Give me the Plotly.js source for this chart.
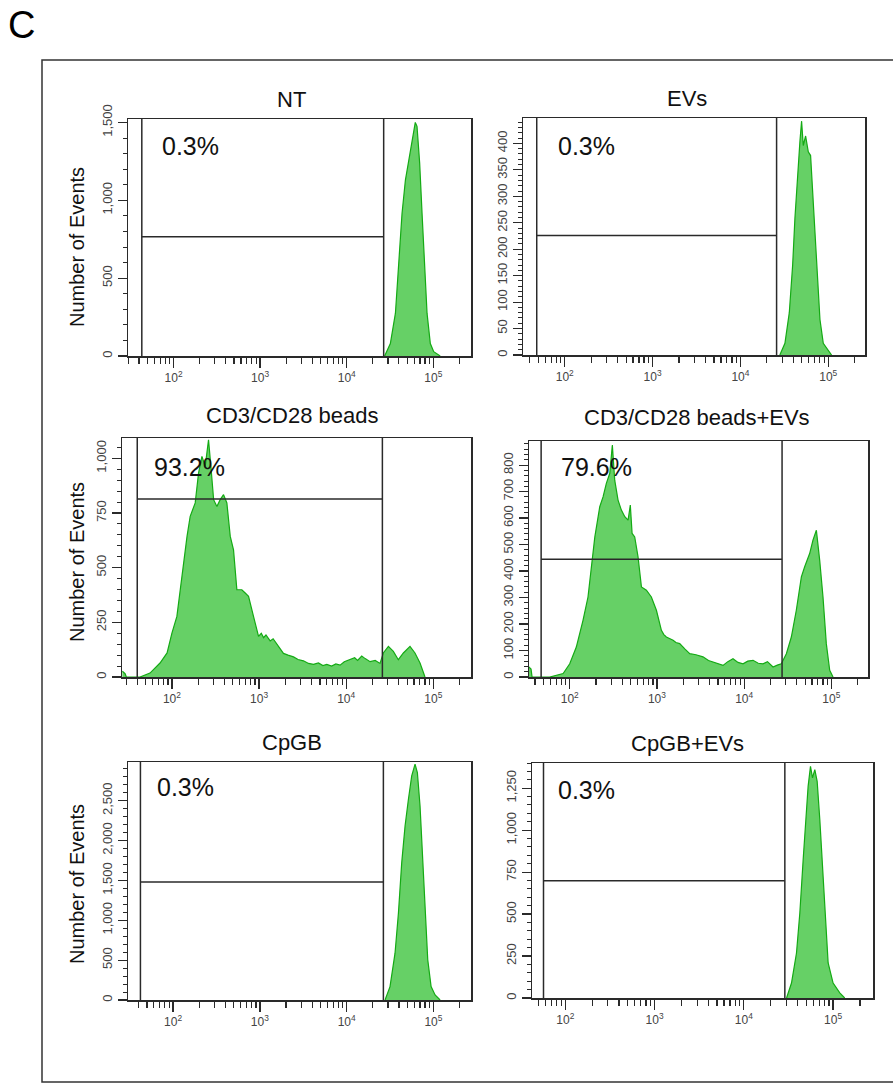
<!DOCTYPE html>
<html>
<head>
<meta charset="utf-8">
<script src="https://cdn.plot.ly/plotly-3.0.1.min.js"></script>
<style>html,body{margin:0;padding:0;background:#fff;}#chart{width:893px;height:1084px;}</style>
</head>
<body>
<div id="chart"></div>
<script>
// ---------------- DATA ----------------
const panelTitles = ["NT", "EVs", "CD3/CD28 beads", "CD3/CD28 beads+EVs", "CpGB", "CpGB+EVs"];
const percentLabels = ["0.3%", "0.3%", "93.2%", "79.6%", "0.3%", "0.3%"];
const yAxisTitle = "Number of Events";
const panelLetter = "C";

const xTickVals = [100, 1000, 10000, 100000];
const xTickText = ["10<sup>2</sup>", "10<sup>3</sup>", "10<sup>4</sup>", "10<sup>5</sup>"];

// histogram series (fluorescence value, number of events)
const ntX = [27400, 31900, 36500, 39800, 43500, 47600, 51900, 56700, 61900, 64800, 69500, 74100, 78800, 84600, 92300, 101000, 120000];
const ntY = [0, 80, 275, 575, 915, 1130, 1260, 1390, 1500, 1475, 1240, 915, 595, 275, 80, 28, 0];

const evsX = [28100, 32100, 36000, 39300, 41700, 44800, 47600, 49700, 51900, 55200, 59200, 62900, 67500, 73600, 80400, 87700, 95700, 109000];
const evsY = [0, 22, 80, 170, 258, 345, 405, 442, 396, 414, 384, 377, 283, 170, 67, 22, 13, 0];

const cd3X = [27, 29, 30, 43, 56, 73, 88, 100, 114, 130, 149, 162, 185, 202, 221, 241, 263, 280, 301, 328, 358, 391, 427, 467, 509, 556, 634, 693, 757, 863, 986, 1060, 1125, 1200, 1340, 1450, 1600, 1750, 1905, 2150, 2483, 2800, 3228, 3700, 4207, 4800, 5400, 5984, 6800, 7600, 8511, 9500, 11070, 12500, 13500, 15070, 16500, 18790, 21500, 24430, 26670, 30480, 34750, 39630, 45290, 53950, 61520, 70310, 80170];
const cd3Y = [26, 15, 0, 0, 18, 64, 110, 201, 277, 460, 643, 735, 796, 933, 1009, 963, 1085, 963, 811, 780, 811, 834, 796, 643, 582, 399, 399, 384, 369, 277, 186, 200, 180, 192, 165, 175, 150, 130, 108, 100, 92, 80, 74, 62, 58, 64, 52, 58, 50, 60, 54, 70, 80, 88, 76, 96, 84, 70, 76, 62, 110, 140, 117, 79, 110, 140, 110, 64, 0];

const cd3evX = [34, 36, 37, 59, 84, 100, 119, 142, 162, 177, 194, 221, 241, 263, 288, 308, 328, 358, 391, 428, 467, 495, 519, 556, 607, 664, 757, 863, 986, 1125, 1200, 1282, 1400, 1531, 1650, 1824, 2100, 2377, 2800, 3373, 3900, 4395, 5000, 5728, 6500, 7447, 8500, 9705, 11000, 12650, 14500, 16440, 18500, 21430, 24000, 26670, 30480, 34750, 39630, 45290, 49430, 56360, 61520, 67300, 73450, 80170, 87500, 95720, 104500];
const cd3evY = [38, 30, 0, 0, 13, 50, 113, 214, 302, 416, 529, 643, 680, 731, 769, 876, 743, 668, 630, 605, 592, 649, 542, 529, 454, 340, 328, 302, 252, 176, 160, 151, 145, 139, 130, 126, 105, 88, 84, 76, 62, 57, 50, 44, 58, 69, 55, 50, 60, 63, 52, 50, 58, 38, 45, 50, 88, 151, 252, 378, 416, 466, 517, 554, 441, 302, 126, 25, 0];

const cpgX = [27700, 31600, 36100, 39500, 43100, 47100, 51500, 56200, 61400, 65300, 70100, 75300, 80100, 86000, 94000, 104500, 119400];
const cpgY = [0, 168, 587, 1091, 1720, 2182, 2518, 2811, 2958, 2853, 2434, 1762, 1133, 504, 168, 63, 0];

const cpgevX = [30100, 34200, 38900, 42400, 46200, 49500, 52500, 55800, 58800, 62400, 66300, 71000, 76000, 81500, 88000, 100000, 118800, 135000];
const cpgevY = [0, 89, 268, 506, 824, 1062, 1261, 1380, 1311, 1360, 1291, 1062, 765, 467, 209, 89, 30, 0];

// gates per panel
const gateLow = [43, 48, 40, 47, 42, 57];
const gateHigh = [26700, 25800, 26000, 27200, 26500, 28800];
const gateLevel = [766, 226, 814, 445, 1481, 699];

// y axis scales per panel
const yMax = [1522, 448, 1093, 891, 2985, 1400];
const yMajorStep = [500, 50, 250, 100, 500, 250];
const yMinorStep = [100, 10, 50, 20, 100, 50];

// ---------------- LAYOUT (positions / styles) ----------------
const W = 893, H = 1084;
const px = v => v / W;
const py = v => 1 - v / H;
// pixel rectangles [left, right, top, bottom] and log x ranges
const rects = [
  [128, 471, 119, 356], [523, 865, 118, 355],
  [122, 471, 438, 677], [529, 868, 441, 677],
  [128, 471, 762, 1000], [532, 873, 763, 998]
];
const xRanges = [[1.474, 5.435], [1.525, 5.418], [1.427, 5.432], [1.533, 5.42], [1.48, 5.433], [1.627, 5.447]];
const titlePos = [[291, 99], [687, 98], [292, 415], [697, 417], [292, 742], [687, 743]];
const pctPos = [[160, 146], [556, 146], [152, 467], [559, 467], [155, 787], [556, 790]];
const yTitlePos = [[77, 247], [77, 562], [77, 884]];

const series = [[ntX, ntY], [evsX, evsY], [cd3X, cd3Y], [cd3evX, cd3evY], [cpgX, cpgY], [cpgevX, cpgevY]];

const minorX = [];
[10, 100, 1000, 10000, 100000].forEach(d => { for (let k = 2; k <= 9; k++) minorX.push(k * d); });

const FONT = "Arial, 'Liberation Sans', sans-serif";
const fillGreen = "rgba(102,208,102,1)";
const lineGreen = "rgb(20,170,20)";
const axisCol = "#2a2a2a";

const traces = [];
const layout = {
  width: W, height: H,
  margin: {l: 0, r: 0, t: 0, b: 0},
  paper_bgcolor: "#fff", plot_bgcolor: "#fff",
  showlegend: false,
  font: {family: FONT, color: "#000"},
  separators: ".,",
  annotations: [], shapes: []
};

series.forEach((s, i) => {
  const n = i === 0 ? "" : String(i + 1);
  const xa = "x" + n, ya = "y" + n;
  traces.push({
    type: "scatter", mode: "lines", x: s[0], y: s[1], xaxis: xa, yaxis: ya,
    fill: "tozeroy", fillcolor: fillGreen, line: {color: lineGreen, width: 1.2}, hoverinfo: "skip"
  });
  traces.push({
    type: "scatter", mode: "lines", xaxis: xa, yaxis: ya,
    x: [gateLow[i], gateLow[i], null, gateHigh[i], gateHigh[i], null, gateLow[i], gateHigh[i]],
    y: [0, yMax[i], null, 0, yMax[i], null, gateLevel[i], gateLevel[i]],
    line: {color: axisCol, width: 1.5}, hoverinfo: "skip"
  });
  const r = rects[i];
  layout["xaxis" + n] = {
    type: "log", range: xRanges[i], domain: [px(r[0]), px(r[1])], anchor: ya,
    showline: true, linecolor: axisCol, linewidth: 1.5, mirror: true,
    showgrid: false, zeroline: false,
    ticks: "outside", ticklen: 10, tickwidth: 1.3, tickcolor: axisCol,
    tickmode: "array", tickvals: xTickVals, ticktext: xTickText,
    tickfont: {family: FONT, size: 12, color: "#444"},
    minor: {tickmode: "array", tickvals: minorX, ticks: "outside", ticklen: 6, tickwidth: 1.2, tickcolor: axisCol, showgrid: false}
  };
  layout["yaxis" + n] = {
    range: [0, yMax[i]], domain: [py(r[3]), py(r[2])], anchor: xa,
    showline: true, linecolor: axisCol, linewidth: 1.5, mirror: true,
    showgrid: false, zeroline: false,
    ticks: "outside", ticklen: 9, tickwidth: 1.2, tickcolor: axisCol,
    tickmode: "linear", tick0: 0, dtick: yMajorStep[i], tickformat: ",",
    tickangle: -90, tickfont: {family: FONT, size: 13, color: "#444"},
    minor: {dtick: yMinorStep[i], ticks: "outside", ticklen: 4, tickwidth: 1, tickcolor: axisCol, showgrid: false}
  };
  layout.annotations.push({
    xref: "paper", yref: "paper", x: px(titlePos[i][0]), y: py(titlePos[i][1]),
    text: panelTitles[i], showarrow: false, xanchor: "center", yanchor: "middle",
    font: {family: FONT, size: 22, color: "#111"}
  });
  layout.annotations.push({
    xref: "paper", yref: "paper", x: px(pctPos[i][0]), y: py(pctPos[i][1]),
    text: percentLabels[i], showarrow: false, xanchor: "left", yanchor: "middle",
    font: {family: FONT, size: 25, color: "#111"}
  });
});

yTitlePos.forEach(p => {
  layout.annotations.push({
    xref: "paper", yref: "paper", x: px(p[0]), y: py(p[1]),
    text: yAxisTitle, showarrow: false, textangle: -90, xanchor: "center", yanchor: "middle",
    font: {family: FONT, size: 20, color: "#111"}
  });
});

layout.annotations.push({
  xref: "paper", yref: "paper", x: px(21), y: py(25), text: panelLetter, showarrow: false,
  xanchor: "center", yanchor: "middle", font: {family: FONT, size: 38, color: "#000"}
});

layout.shapes.push({
  type: "rect", xref: "paper", yref: "paper",
  x0: px(42), x1: px(900), y0: py(1082), y1: py(60),
  line: {color: "#333", width: 1.5}, fillcolor: "rgba(0,0,0,0)", layer: "below"
});

Plotly.newPlot("chart", traces, layout, {staticPlot: true, displayModeBar: false});
</script>
</body>
</html>
